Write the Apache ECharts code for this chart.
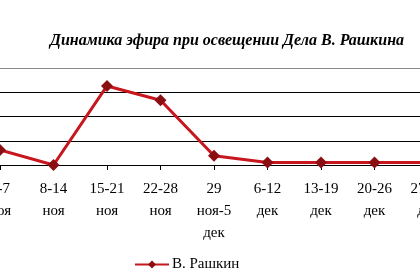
<!DOCTYPE html>
<html><head><meta charset="utf-8">
<script src="https://cdn.jsdelivr.net/npm/echarts@6/dist/echarts.min.js"></script>
<style>html,body{margin:0;padding:0;background:#fff}#c{width:420px;height:280px}</style>
</head><body><div id="c"></div>
<script>
const categories = ["1-7\nноя","8-14\nноя","15-21\nноя","22-28\nноя","29\nноя-5\nдек","6-12\nдек","13-19\nдек","20-26\nдек","27-31\nдек"];
const rashkin = [0.62, 0, 3.26, 2.67, 0.38, 0.1, 0.1, 0.1, 0.1];
const seriesName = "В. Рашкин";
const titleText = "Динамика эфира при освещении Дела В. Рашкина";

const chart = echarts.init(document.getElementById('c'), null, {renderer:'canvas'});
chart.setOption({
  animation: false,
  backgroundColor: '#fff',
  title: {
    text: titleText, left: 222, top: 28, textAlign: 'center',
    textStyle: {fontFamily: 'Liberation Serif', fontStyle: 'italic', fontWeight: 'bold', fontSize: 16, color: '#000'}
  },
  legend: {
    data: [seriesName], left: 129, top: 252, itemWidth: 34, itemHeight: 10, itemGap: 3,
    textStyle: {fontFamily: 'Liberation Serif', fontSize: 15, color: '#000', padding: [0,0,0,-2]}
  },
  grid: {left: 0, right: -8, top: 68, bottom: 115, containLabel: false, outerBoundsMode: 'none'},
  xAxis: {
    type: 'category', data: categories, boundaryGap: false,
    axisLine: {lineStyle: {color: '#000', width: 1}},
    axisTick: {show: true, length: 5, alignWithLabel: true, lineStyle: {color: '#000'}},
    axisLabel: {interval: 0, color: '#000', fontFamily: 'Liberation Serif', fontSize: 15, lineHeight: 22, margin: 13}
  },
  yAxis: {
    type: 'value', min: 0, max: 4, interval: 1,
    axisLine: {show: false}, axisTick: {show: false}, axisLabel: {show: false},
    splitLine: {lineStyle: {color: ['#000','#000','#000','#000','#8a8a8a'], width: 1}}
  },
  series: [{
    name: seriesName, type: 'line', data: rashkin,
    symbol: 'diamond', symbolSize: 12, showAllSymbol: true,
    lineStyle: {color: '#C8161E', width: 3},
    itemStyle: {color: '#8B0F12', borderWidth: 0}
  }]
});
</script></body></html>
